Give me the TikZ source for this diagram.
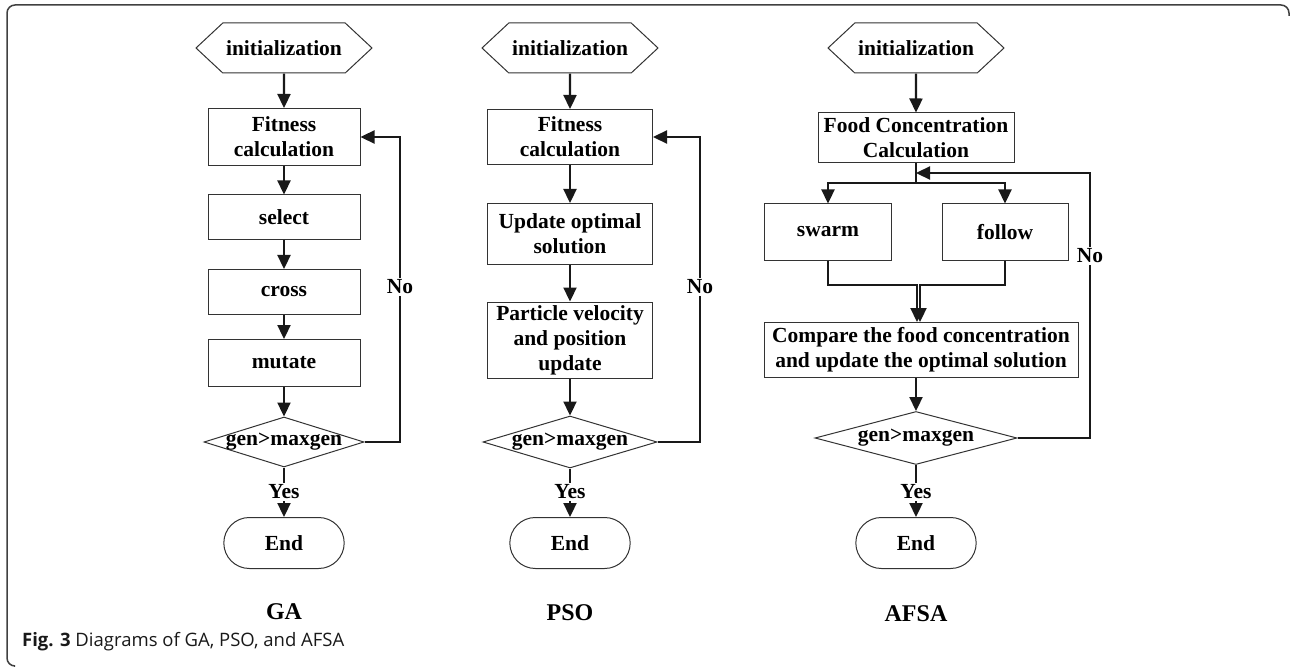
\documentclass[tikz,border=0pt]{standalone}
\usepackage{fontspec}
\setmainfont{Liberation Serif}
\newfontfamily\captionfont{Open Sans}
\usetikzlibrary{arrows.meta, shapes.geometric, shapes.symbols, shapes.misc}
\definecolor{boxline}{gray}{0.2}
\definecolor{frameline}{gray}{0.25}
\tikzset{
  flowtext/.style={font=\fontsize{21.5bp}{25bp}\selectfont\bfseries},
  procbox/.style={flowtext, draw=boxline, line width=1bp, align=center, inner sep=0pt},
  initbox/.style={flowtext, draw=boxline, line width=1bp, signal, signal to=west and east,
    signal pointer angle=86, minimum width=176bp, minimum height=50bp, inner sep=0pt},
  decbox/.style={flowtext, draw=boxline, line width=1bp, diamond, inner sep=0pt},
  endbox/.style={flowtext, draw=boxline, line width=1bp, rounded rectangle,
    minimum width=127bp, minimum height=51bp},
  lbl/.style={flowtext, fill=white, inner sep=2bp},
  titletext/.style={font=\fontsize{24bp}{28bp}\selectfont\bfseries},
  captiontext/.style={font=\captionfont\fontsize{18.5bp}{22bp}\selectfont, text=black!90, inner sep=0pt},
  flowline/.style={line width=2.3bp, black!90},
  flowarrow/.style={flowline, -{Triangle[length=14bp, width=13bp]}},
}
\begin{document}
\begin{tikzpicture}[x=1bp, y=-1bp]
			\def\xga{284}
			\def\xpso{570}
			\def\xafsa{916}
			\useasboundingbox (0,0) rectangle (1290,667);
			
			% outer frame
			\draw[frameline, line width=1.5bp, rounded corners=8bp]
				(1289,16) -- (1289,5) -- (7,5) -- (7,666) -- (14,666);
			
			% GA
			\node[initbox] (gainit) at (\xga,48) {initialization};
			\node[procbox, minimum width=152bp, minimum height=57bp] (gafit) at (\xga,137) {Fitness\\calculation};
			\node[procbox, minimum width=152bp, minimum height=44bp] (gasel) at (\xga,217) {select};
			\node[procbox, minimum width=152bp, minimum height=45bp] (gacross) at (\xga,292) {cross};
			\node[procbox, minimum width=152bp, minimum height=47bp] (gamut) at (\xga,363) {mutate};
			\node[decbox, minimum width=160bp, minimum height=50bp] (gagen) at (\xga,442) {\makebox[0pt]{gen>maxgen}};
			\node[lbl] (gayes) at (\xga,492) {Yes};
			\node[endbox] (gaend) at (\xga,543) {End};
			\node[lbl] (gano) at (400,287) {No};
			\node[titletext] (gatitle) at (\xga,612) {GA};
			
			\draw[flowarrow] (gainit) -- (gafit);
			\draw[flowarrow] (gafit) -- (gasel);
			\draw[flowarrow] (gasel) -- (gacross);
			\draw[flowarrow] (gacross) -- (gamut);
			\draw[flowarrow] (gamut) -- (gagen);
			\draw[flowline] (gagen.south) -- (gayes.north);
			\draw[flowarrow] (gayes.south) -- (gaend.north);
			\draw[flowline] (gagen.east) -| (gano.south);
			\draw[flowarrow] (gano.north) |- (gafit.east);
			
			% PSO
			\node[initbox] (psoinit) at (\xpso,48) {initialization};
			\node[procbox, minimum width=165bp, minimum height=55bp] (psofit) at (\xpso,137) {Fitness\\calculation};
			\node[procbox, minimum width=165bp, minimum height=61bp] (psoupd) at (\xpso,234) {Update optimal\\solution};
			\node[procbox, minimum width=165bp, minimum height=76bp] (psovel) at (\xpso,340) {Particle velocity\\and position\\update};
			\node[decbox, minimum width=174bp, minimum height=52bp] (psogen) at (\xpso,442) {\makebox[0pt]{gen>maxgen}};
			\node[lbl] (psoyes) at (\xpso,492) {Yes};
			\node[endbox] (psoend) at (\xpso,543) {End};
			\node[lbl] (psono) at (700,287) {No};
			\node[titletext] (psotitle) at (\xpso,613) {PSO};
			
			\draw[flowarrow] (psoinit) -- (psofit);
			\draw[flowarrow] (psofit) -- (psoupd);
			\draw[flowarrow] (psoupd) -- (psovel);
			\draw[flowarrow] (psovel) -- (psogen);
			\draw[flowline] (psogen.south) -- (psoyes.north);
			\draw[flowarrow] (psoyes.south) -- (psoend.north);
			\draw[flowline] (psogen.east) -| (psono.south);
			\draw[flowarrow] (psono.north) |- (psofit.east);
			
			% AFSA
			\node[initbox] (afinit) at (\xafsa,48) {initialization};
			\node[procbox, minimum width=196bp, minimum height=50bp] (affood) at (\xafsa,138) {Food Concentration\\Calculation};
			\coordinate (afjoin) at (\xafsa,173);
			\coordinate (afsplit) at (\xafsa,183);
			\node[procbox, minimum width=127bp, minimum height=56bp] (afswarm) at (828,232) {swarm};
			\node[procbox, minimum width=126bp, minimum height=56bp] (affollow) at (1005,232) {follow};
			\coordinate (afmergel) at (917,285);
			\coordinate (afmerger) at (920,285);
			\node[procbox, minimum width=314bp, minimum height=55bp] (afcomp) at (921,350) {Compare the food concentration\\and update the optimal solution};
			\node[decbox, minimum width=202bp, minimum height=53bp] (afgen) at (\xafsa,438) {\makebox[0pt]{gen>maxgen}};
			\node[lbl] (afyes) at (\xafsa,492) {Yes};
			\node[endbox] (afend) at (\xafsa,543) {End};
			\node[lbl] (afno) at (1090,256) {No};
			\node[titletext] (aftitle) at (\xafsa,614) {AFSA};
			
			\draw[flowarrow] (afinit) -- (affood);
			\draw[flowline] (affood.south) -- (afsplit);
			\draw[flowarrow] (afsplit) -| (afswarm.north);
			\draw[flowarrow] (afsplit) -| (affollow.north);
			\draw[flowarrow] (afswarm.south) |- (afmergel) -- (afmergel |- afcomp.north);
			\draw[flowarrow] (affollow.south) |- (afmerger) -- (afmerger |- afcomp.north);
			\draw[flowarrow] (afcomp.south -| afgen.north) -- (afgen.north);
			\draw[flowline] (afgen.south) -- (afyes.north);
			\draw[flowarrow] (afyes.south) -- (afend.north);
			\draw[flowline] (afgen.east) -| (afno.south);
			\draw[flowarrow] (afno.north) |- (afjoin);
			
			% caption
			\node[captiontext, anchor=west] (caption) at (22,642) {\textbf{Fig. 3} Diagrams of GA, PSO, and AFSA};
			
		\end{tikzpicture}
\end{document}
